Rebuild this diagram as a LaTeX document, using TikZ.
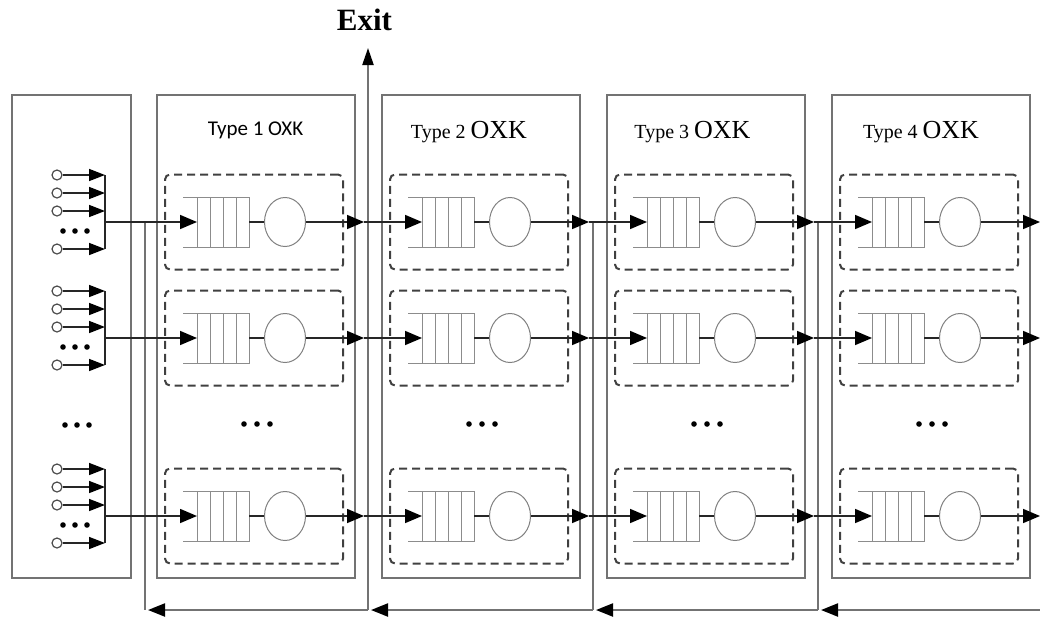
\documentclass[tikz,border=0pt]{standalone}
\usepackage{fontspec}
\newfontfamily\carl{Carlito}
\newfontfamily\tnrfont{Liberation Serif}
\usetikzlibrary{arrows.meta,shapes.geometric,calc}
\begin{document}
\begin{tikzpicture}[x=1pt,y=-1pt,
 outerbox/.style={draw=black!55,line width=2.2pt,inner sep=0,outer sep=0},
 dashbox/.style={draw=black!75,line width=2pt,dash pattern=on 8pt off 5pt,rounded corners=5pt,inner sep=0,minimum width=178pt,minimum height=95pt},
 qline/.style={draw=black!45,line width=1pt},
 server/.style={ellipse,draw=black!50,line width=1pt,minimum width=41pt,minimum height=49pt,inner sep=0},
 queue/.style={rectangle,minimum width=52pt,minimum height=50pt,inner sep=0,outer sep=0},
 flow/.style={draw=black!85,line width=1.6pt},
 tip/.style={-{Triangle[length=17pt,width=14pt,color=black]}},
 srctip/.style={-{Triangle[length=16pt,width=12pt,color=black]}},
 fb/.style={draw=black!55,line width=2.2pt},
 fbtip/.style={-{Triangle[length=17pt,width=13pt,color=black]}},
 src/.style={circle,draw=black!70,line width=1.2pt,minimum size=10pt,inner sep=0},
 dot/.style={fill=black},
]
\useasboundingbox (0,0) rectangle (1040,621);

% source box
\node[outerbox,anchor=north west,minimum width=119pt,minimum height=483pt] (srcbox) at (12,95) {};
\foreach \d in {-12,0,12} \fill[dot] (77+\d,425) circle (2.8pt);

% type boxes
\foreach \i/\L in {1/157,2/382,3/607,4/832}{
  \node[outerbox,anchor=north west,minimum width=198pt,minimum height=483pt] (T\i) at (\L,95) {};
  \foreach \d in {-13,0,13} \fill[dot] (\L+100+\d,424) circle (2.8pt);
}

% feedback lines
\foreach \k/\x in {1/145,2/368,3/593,4/818}{
  \coordinate (ft-\k) at (\x,222);
  \coordinate (fb-\k) at (\x,610);
  \coordinate (fa-\k) at (\x+3,610);
}
\coordinate (exit) at (368,48);
\coordinate (br) at (1040,610);
\draw[fb] (ft-1) -- (fb-1);
\draw[fb] (ft-3) -- (fb-3);
\draw[fb] (ft-4) -- (fb-4);
\draw[fb,-{Triangle[length=17pt,width=11pt,color=black]}] (fb-2) -- (exit);
\draw[fb,fbtip] (br) -- (fa-4);
\draw[fb,fbtip] (fb-4) -- (fa-3);
\draw[fb,fbtip] (fb-3) -- (fa-2);
\draw[fb,fbtip] (fb-2) -- (fa-1);

% rows
\foreach \r/\y in {1/222,2/338,3/516}{
  % source group
  \foreach \k/\dy in {1/-47,2/-29,3/-11,5/27}{
    \node[src] (s-\r-\k) at (57,\y+\dy) {};
    \coordinate (b-\r-\k) at (105,\y+\dy);
    \draw[flow,srctip] (s-\r-\k.east) -- (b-\r-\k);
  }
  \foreach \d in {-12,0,12} \fill[dot] (75+\d,\y+9) circle (2.8pt);
  \draw[flow] (b-\r-1) -- (b-\r-5);
  \coordinate (in-\r) at (105,\y);
  % servers
  \foreach \i/\L/\o in {1/157/364,2/382/589,3/607/814,4/832/1040}{
    \node[dashbox] (d-\i-\r) at (\L+97,\y) {};
    \node[queue] (q-\i-\r) at (\L+66,\y) {};
    \draw[qline] ($(q-\i-\r.north west)+(-14,0)$) -- (q-\i-\r.north east) -- (q-\i-\r.south east) -- ($(q-\i-\r.south west)+(-14,0)$);
    \foreach \v in {0,13,26,39}
      \draw[qline] ($(q-\i-\r.north west)+(\v,0)$) -- ($(q-\i-\r.south west)+(\v,0)$);
    \node[server] (c-\i-\r) at (\L+128,\y) {};
    \coordinate (o-\i-\r) at (\o,\y);
    \draw[flow] (q-\i-\r.east) -- (c-\i-\r.west);
    \draw[flow,tip] (c-\i-\r.east) -- (o-\i-\r);
  }
  \draw[flow,tip] (in-\r) -- (q-1-\r.west);
  \draw[flow,tip] (o-1-\r) -- (q-2-\r.west);
  \draw[flow,tip] (o-2-\r) -- (q-3-\r.west);
  \draw[flow,tip] (o-3-\r) -- (q-4-\r.west);
}

% labels
\node[anchor=base,inner sep=0,font=\tnrfont\bfseries\fontsize{31}{31}\selectfont] (exitlab) at (364.5,30) {Exit};
\node[anchor=base,inner sep=0,font=\carl\fontsize{21}{21}\selectfont] (lab1) at (255.5,135) {Type 1 OXK};
\node[anchor=base,inner sep=0] (lab2) at (469,138) {\tnrfont\fontsize{20}{20}\selectfont Type 2 \fontsize{26}{26}\selectfont OXK};
\node[anchor=base,inner sep=0] (lab3) at (692.5,138) {\tnrfont\fontsize{20}{20}\selectfont Type 3 \fontsize{26}{26}\selectfont OXK};
\node[anchor=base,inner sep=0] (lab4) at (921,138) {\tnrfont\fontsize{20}{20}\selectfont Type 4 \fontsize{26}{26}\selectfont OXK};
\end{tikzpicture}
\end{document}
